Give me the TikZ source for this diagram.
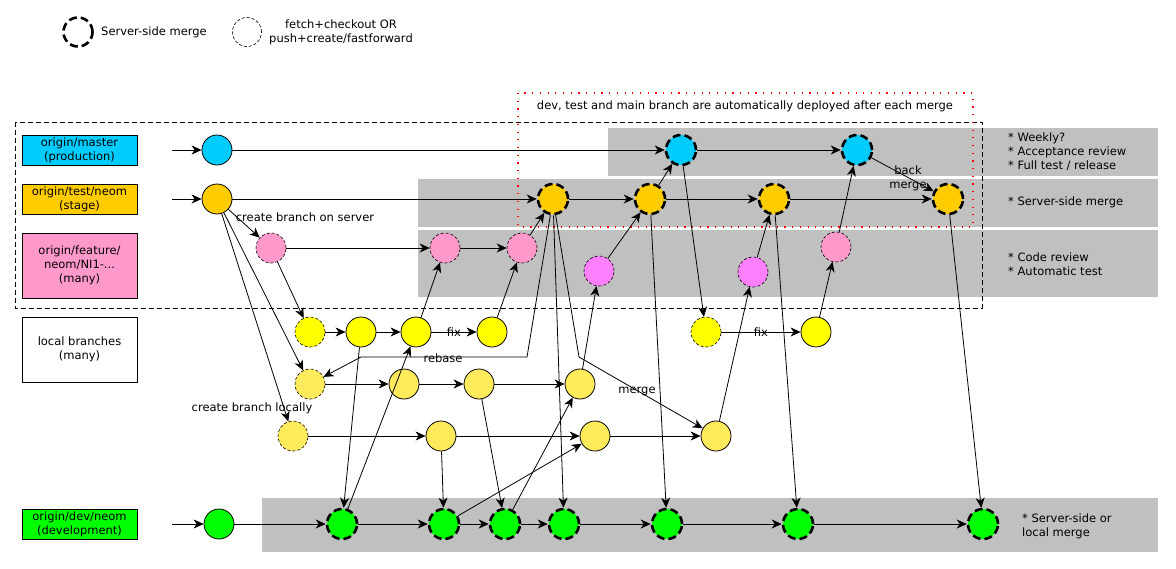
\documentclass[tikz,border=0pt]{standalone}
\usepackage{fontspec}
\setmainfont{DejaVu Sans}
\usetikzlibrary{arrows.meta}
\definecolor{cyanc}{HTML}{00CCFF}
\definecolor{orangec}{HTML}{FFCC00}
\definecolor{pinkc}{HTML}{FF99CC}
\definecolor{magc}{HTML}{FF80FF}
\definecolor{yelc}{HTML}{FFFF00}
\definecolor{lyelc}{HTML}{FFEA5C}
\definecolor{greenc}{HTML}{00FF00}
\definecolor{bandc}{HTML}{C0C0C0}
\begin{document}
\begin{tikzpicture}[x=1pt,y=-1pt,
  every node/.style={font=\fontsize{11.5}{14}\selectfont},
  commit/.style={circle,draw,minimum size=30pt,inner sep=0pt,line width=0.8pt},
  srvmerge/.style={commit,line width=2.6pt,dash pattern=on 8pt off 4pt},
  fetchc/.style={commit,line width=0.6pt,dash pattern=on 3pt off 2pt},
  arr/.style={-{Stealth[length=10pt,width=9pt,inset=3pt]},line width=0.8pt},
  lblbox/.style={draw,line width=0.8pt,minimum width=115pt,align=center,inner sep=1pt},
  txt/.style={align=left,anchor=west,inner sep=0pt},
  plain/.style={inner sep=0pt,align=center},
]
\useasboundingbox (0,0) rectangle (1176,568);
% bands
\fill[bandc] (608,128) rectangle (1158,176);
\fill[bandc] (418,179) rectangle (1158,227);
\fill[bandc] (418,230) rectangle (1158,297);
\fill[bandc] (262,498) rectangle (1158,552);
% group frames
\draw[line width=0.7pt,dash pattern=on 5pt off 3pt] (15,122) rectangle (982,308);
\draw[red,line width=1.2pt,dash pattern=on 1.2pt off 6.5pt] (518,93) rectangle (973,227);
\node[plain] (deploy) at (745,106) {dev, test and main branch are automatically deployed after each merge};

% legend
\node[srvmerge,minimum size=29pt] (lg1) at (78,32) {};
\node[plain] (lg1t) at (154,32) {Server-side merge};
\node[fetchc,minimum size=29pt] (lg2) at (247,32) {};
\node[plain] (lg2t) at (341,32) {fetch+checkout OR\\push+create/fastforward};

% row labels
\node[lblbox,fill=cyanc,minimum height=30pt] (lmaster) at (79.5,150) {origin/master\\(production)};
\node[lblbox,fill=orangec,minimum height=30pt] (ltest) at (79.5,199) {origin/test/neom\\(stage)};
\node[lblbox,fill=pinkc,minimum height=65pt] (lfeat) at (79.5,265.5) {origin/feature/\\neom/NI1-...\\(many)};
\node[lblbox,minimum height=65pt] (llocal) at (79.5,349.5) {local branches\\(many)};
\node[lblbox,fill=greenc,minimum height=30pt] (ldev) at (79.5,524) {origin/dev/neom\\(development)};

% right notes
\node[txt] (n1) at (1008,152) {* Weekly?\\* Acceptance review\\* Full test / release};
\node[txt] (n2) at (1008,202) {* Server-side merge};
\node[txt] (n3) at (1008,264) {* Code review\\* Automatic test};
\node[txt] (n4) at (1022,526) {* Server-side or\\local merge};

% start points
\coordinate (sM) at (172,150);
\coordinate (sT) at (172,199);
\coordinate (sD) at (172,524);
\coordinate (rb1) at (527,357);
\coordinate (rb2) at (361,357);
\coordinate (mg1) at (579,357);

% commits
\node[commit,fill=cyanc] (M0) at (217,150) {};
\node[srvmerge,fill=cyanc] (M1) at (681,150) {};
\node[srvmerge,fill=cyanc] (M2) at (857,150) {};
\node[commit,fill=orangec] (T0) at (217,199) {};
\node[srvmerge,fill=orangec] (T1) at (553,199) {};
\node[srvmerge,fill=orangec] (T2) at (650,199) {};
\node[srvmerge,fill=orangec] (T3) at (774,199) {};
\node[srvmerge,fill=orangec] (T4) at (948,199) {};
\node[fetchc,fill=pinkc] (F0) at (271,248) {};
\node[fetchc,fill=pinkc] (F1) at (445,248) {};
\node[fetchc,fill=pinkc] (F2) at (522,248) {};
\node[fetchc,fill=magc] (F3) at (599,271) {};
\node[fetchc,fill=magc] (F4) at (753,272) {};
\node[fetchc,fill=pinkc] (F5) at (836,247) {};
\node[fetchc,fill=yelc] (L1a) at (310,332) {};
\node[commit,fill=yelc] (L1b) at (361,332) {};
\node[commit,fill=yelc] (L1c) at (416,332) {};
\node[commit,fill=yelc] (L1d) at (492,332) {};
\node[fetchc,fill=yelc] (L1e) at (706,332) {};
\node[commit,fill=yelc] (L1f) at (816,332) {};
\node[fetchc,fill=lyelc] (L2a) at (310,384) {};
\node[commit,fill=lyelc] (L2b) at (404,384) {};
\node[commit,fill=lyelc] (L2c) at (479,384) {};
\node[commit,fill=lyelc] (L2d) at (580,384) {};
\node[fetchc,fill=lyelc] (L3a) at (293,436) {};
\node[commit,fill=lyelc] (L3b) at (441,436) {};
\node[commit,fill=lyelc] (L3c) at (595,436) {};
\node[commit,fill=lyelc] (L3d) at (716,436) {};
\node[commit,fill=greenc] (D0) at (219,524) {};
\node[srvmerge,fill=greenc] (D1) at (342,524) {};
\node[srvmerge,fill=greenc] (D2) at (444,524) {};
\node[srvmerge,fill=greenc] (D3) at (505,524) {};
\node[srvmerge,fill=greenc] (D4) at (564,524) {};
\node[srvmerge,fill=greenc] (D5) at (667,524) {};
\node[srvmerge,fill=greenc] (D6) at (798,524) {};
\node[srvmerge,fill=greenc] (D7) at (983,524) {};

% edge labels
\node[plain] (t1) at (305,217) {create branch on server};
\node[plain] (t2) at (252,408) {create branch locally};
\node[plain] (t3) at (454,332) {fix};
\node[plain] (t4) at (761,332) {fix};
\node[plain] (t5) at (443,358) {rebase};
\node[plain] (t6) at (637,391) {merge};
\node[plain] (t7) at (908,178) {back\\merge};

% connectors
\draw[arr] (sM) -- (M0);
\draw[arr] (sT) -- (T0);
\draw[arr] (sD) -- (D0);
\draw[arr] (M0) -- (M1);
\draw[arr] (M1) -- (M2);
\draw[arr] (M2) -- (T4);
\draw[arr] (T0) -- (T1);
\draw[arr] (T1) -- (T2);
\draw[arr] (T2) -- (T3);
\draw[arr] (T3) -- (T4);
\draw[arr] (T0) -- (F0);
\draw[arr] (T0) -- (L2a);
\draw[arr] (T0) -- (L3a);
\draw[arr] (F0) -- (F1);
\draw[arr] (F1) -- (F2);
\draw[arr] (F0) -- (L1a);
\draw[arr] (L1a) -- (L1b);
\draw[arr] (L1b) -- (L1c);
\draw[arr] (L1c) -- (L1d);
\draw[arr] (L1c) -- (F1);
\draw[arr] (L1d) -- (F2);
\draw[arr] (F2) -- (T1);
\draw[arr] (T1) -- (rb1) -- (rb2) -- (L2a);
\draw[arr] (T1) -- (mg1) -- (L3d);
\draw[arr] (T1) -- (D4);
\draw[arr] (L2a) -- (L2b);
\draw[arr] (L2b) -- (L2c);
\draw[arr] (L2c) -- (L2d);
\draw[arr] (L3a) -- (L3b);
\draw[arr] (L3b) -- (L3c);
\draw[arr] (L3c) -- (L3d);
\draw[arr] (L2d) -- (F3);
\draw[arr] (F3) -- (T2);
\draw[arr] (T2) -- (M1);
\draw[arr] (M1) -- (L1e);
\draw[arr] (L1e) -- (L1f);
\draw[arr] (L1f) -- (F5);
\draw[arr] (F5) -- (M2);
\draw[arr] (L3d) -- (F4);
\draw[arr] (F4) -- (T3);
\draw[arr] (T2) -- (D5);
\draw[arr] (T3) -- (D6);
\draw[arr] (T4) -- (D7);
\draw[arr] (D0) -- (D1);
\draw[arr] (D1) -- (D2);
\draw[arr] (D2) -- (D3);
\draw[arr] (D3) -- (D4);
\draw[arr] (D4) -- (D5);
\draw[arr] (D5) -- (D6);
\draw[arr] (D6) -- (D7);
\draw[arr] (L1b) -- (D1);
\draw[arr] (D1) -- (L1c);
\draw[arr] (L3b) -- (D2);
\draw[arr] (L2c) -- (D3);
\draw[arr] (D2) -- (L3c);
\draw[arr] (D3) -- (L2d);
\end{tikzpicture}
\end{document}
